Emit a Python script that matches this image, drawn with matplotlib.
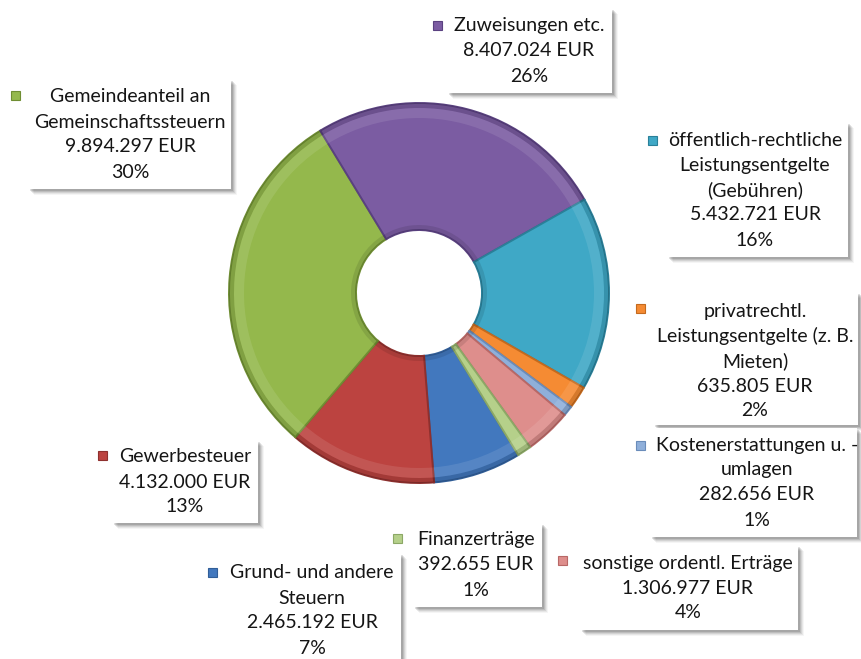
import matplotlib.pyplot as plt
from matplotlib.patches import Rectangle, Wedge

# Daten (Reihenfolge wie in Excel)
labels = ['Grund- und andere\nSteuern',
          'Gewerbesteuer',
          'Gemeindeanteil an\nGemeinschaftssteuern',
          'Zuweisungen etc.',
          'öffentlich-rechtliche\nLeistungsentgelte\n(Gebühren)',
          'privatrechtl.\nLeistungsentgelte (z. B.\nMieten)',
          'Kostenerstattungen u. -\numlagen',
          'sonstige ordentl. Erträge',
          'Finanzerträge']
values = [2465192, 4132000, 9894297, 8407024, 5432721, 635805, 282656, 1306977, 392655]
colors = ['#4278BE', '#BC4340', '#94B84C', '#7B5CA2', '#3FA8C6',
          '#F58B33', '#8FAFDA', '#DE8E8C', '#B5D08A']
edges = ['#315E98', '#8E302E', '#6F8E33', '#5A4180', '#2A8099',
         '#C46A1E', '#6A8CBA', '#B86866', '#8CA866']

# Lage der Beschriftungsboxen in Bildpixeln: (x0, y0, x1, y1), Textmitte x, erste Zeile y, Marker x/y
boxes = [(223, 553, 401, 680), (112, 440, 258, 523), (28, 79, 231, 189),
         (447, 8, 612, 93), (667, 122, 848, 257), (653, 292, 858, 425),
         (650, 428, 857, 537), (580, 545, 798, 630), (413, 523, 542, 607)]
text_x = [312, 185, 130, 529, 755, 755, 757, 688, 476]
text_y = [573, 457, 97, 26, 140, 311, 445, 563, 540]
mark = [(212, 572), (102, 455), (15, 95), (437, 25), (652, 140),
        (640, 308), (640, 445), (562, 560), (397, 538)]

W, H = 861, 659
plt.rcParams['font.family'] = ['Lato', 'DejaVu Sans']

fig = plt.figure(figsize=(W / 100, H / 100), dpi=100)
ax = fig.add_axes([0, 0, 1, 1])

total = sum(values)
start = 121.3 + 360 * sum(values[:3]) / total
cx, cy, R, r_in = 419, H - 293, 190, 63

wedges, _ = ax.pie(values, colors=colors, center=(cx, cy), radius=R,
                   startangle=start, counterclock=False, frame=True,
                   wedgeprops=dict(width=R - r_in, linewidth=1.4))
for w, e in zip(wedges, edges):
    w.set_edgecolor(e)
    # einfache Fase: dunkler Rand aussen/innen, heller Streifen
    t1, t2 = w.theta1, w.theta2
    ax.add_patch(Wedge((cx, cy), R, t1, t2, width=5, facecolor='black',
                       alpha=0.13, linewidth=0, zorder=3))
    ax.add_patch(Wedge((cx, cy), R - 5, t1, t2, width=10, facecolor='white',
                       alpha=0.10, linewidth=0, zorder=3))
    ax.add_patch(Wedge((cx, cy), r_in + 5, t1, t2, width=5, facecolor='black',
                       alpha=0.10, linewidth=0, zorder=3))

ax.set_xlim(0, W)
ax.set_ylim(0, H)
ax.set_aspect('equal')
ax.axis('off')

for i, lab in enumerate(labels):
    x0, y0, x1, y1 = boxes[i]
    # weicher Schatten rechts unten
    for k, a in zip([6, 5, 4, 3, 2], [0.04, 0.06, 0.08, 0.10, 0.12]):
        ax.add_patch(Rectangle((x0 + k, H - y1 - k), x1 - x0, y1 - y0,
                               facecolor='#000000', alpha=a, linewidth=0, zorder=5))
    ax.add_patch(Rectangle((x0, H - y1), x1 - x0, y1 - y0,
                           facecolor='white', edgecolor='none', zorder=6))

    pct = round(100 * values[i] / total)
    eur = f'{values[i]:,}'.replace(',', '.') + ' EUR'
    lines = lab.split('\n') + [eur, f'{pct}%']
    for j, s in enumerate(lines):
        ax.text(text_x[i], H - (text_y[i] + 25 * j), s, ha='center', va='center',
                fontsize=14, color='#151515', zorder=7)

    mx, my = mark[i]
    ax.add_patch(Rectangle((mx - 4.5, H - my - 4.5), 9, 9, facecolor=colors[i],
                           edgecolor=edges[i], linewidth=0.8, zorder=7))

plt.savefig('out.png', dpi=100)
